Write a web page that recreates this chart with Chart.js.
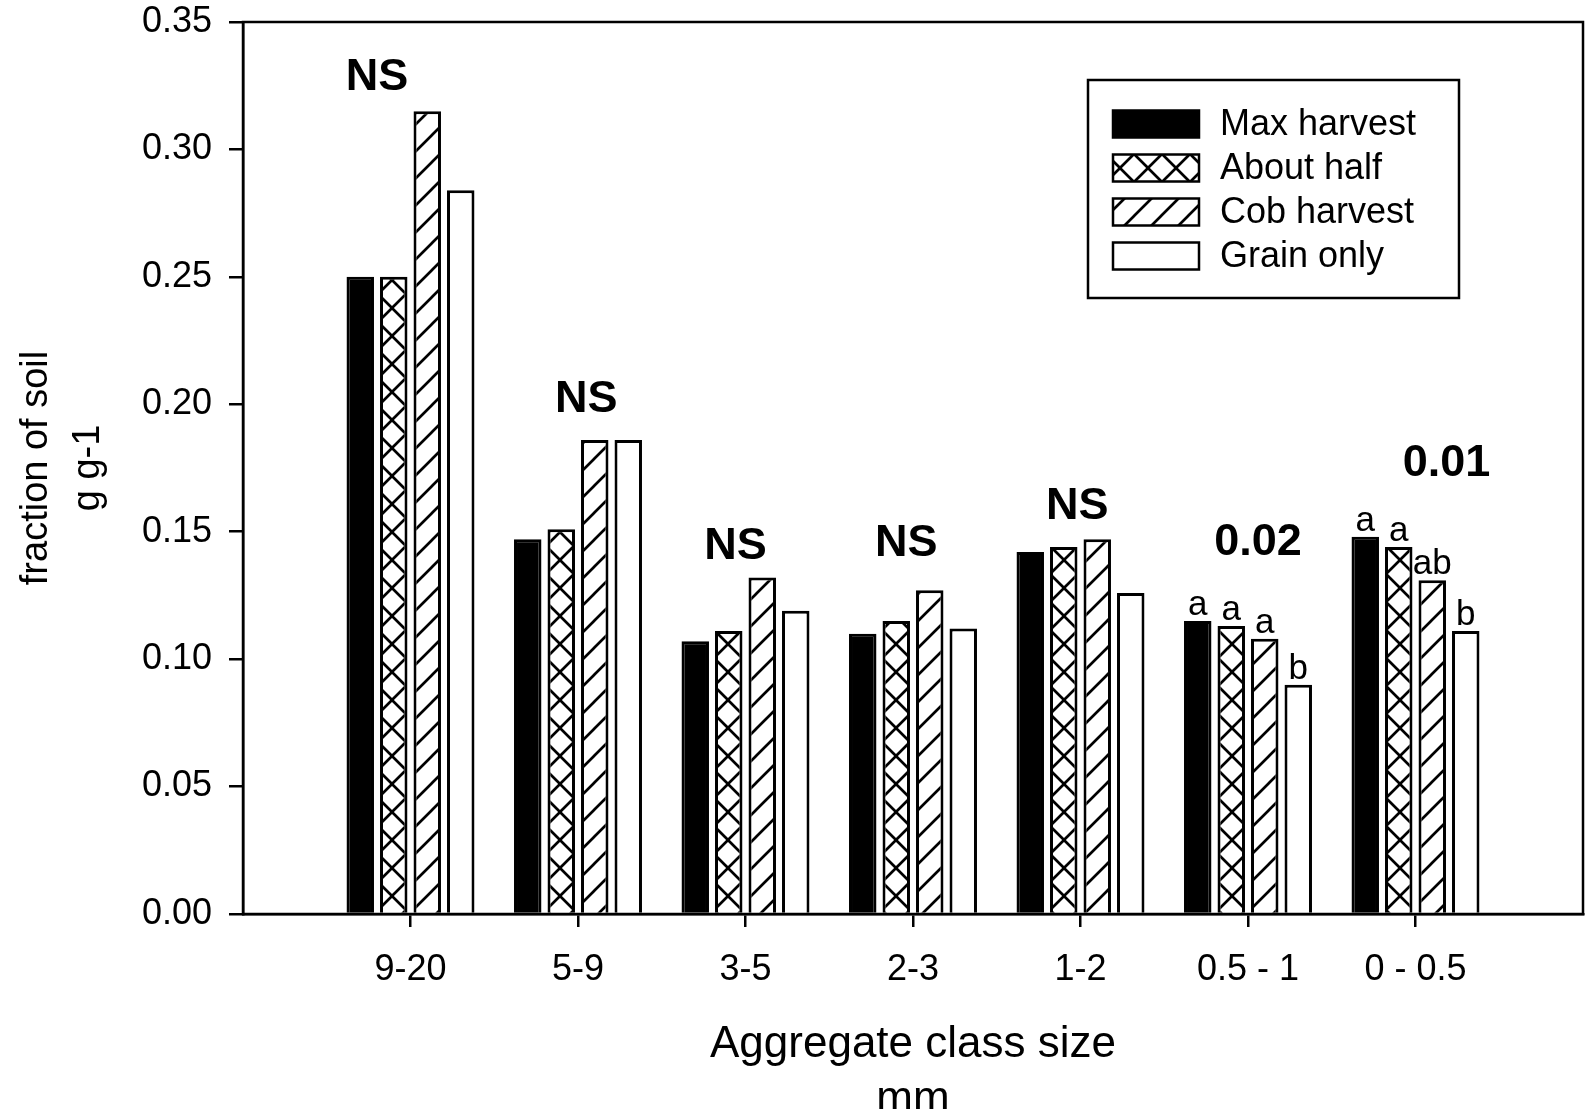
<!DOCTYPE html>
<html>
<head>
<meta charset="utf-8">
<title>Aggregate class size</title>
<script src="https://cdn.jsdelivr.net/npm/chart.js@4.4.1/dist/chart.umd.min.js"></script>
<style>
  body { margin: 0; background: #fff; }
  #wrap { width: 1585px; height: 1109px; }
</style>
</head>
<body>
<div id="wrap"><canvas id="aggChart"></canvas></div>
<script>

// aggregate size classes (mm)
var classes = ['9-20', '5-9', '3-5', '2-3', '1-2', '0.5 - 1', '0 - 0.5'];

// fraction of soil, g g-1, one list per residue treatment
var maxHarvest = [0.250, 0.147, 0.107, 0.110, 0.142, 0.115, 0.148];
var aboutHalf  = [0.250, 0.151, 0.111, 0.115, 0.144, 0.113, 0.144];
var cobHarvest = [0.315, 0.186, 0.132, 0.127, 0.147, 0.108, 0.131];
var grainOnly  = [0.284, 0.186, 0.119, 0.112, 0.126, 0.090, 0.111];

var yTicks = [0, 0.05, 0.10, 0.15, 0.20, 0.25, 0.30, 0.35];

// significance of the treatment effect in each class
var sigText = ['NS', 'NS', 'NS', 'NS', 'NS', '0.02', '0.01'];
var sigX = [0.80, 2.05, 2.94, 3.96, 4.98, 6.06, 7.185];
var sigY = [0.328, 0.202, 0.144, 0.1455, 0.160, 0.1456, 0.1766];

// mean separation letters ('' = none)
var lettersMax   = ['', '', '', '', '', 'a', 'a'];
var lettersHalf  = ['', '', '', '', '', 'a', 'a'];
var lettersCob   = ['', '', '', '', '', 'a', 'ab'];
var lettersGrain = ['', '', '', '', '', 'b', 'b'];

var FONT = '"Liberation Sans", Arial, sans-serif';


// hatch tile: "/" lines, plus "\" lines for the cross pattern
function hatch(kind, s) {
  var c = document.createElement('canvas');
  c.width = s;
  c.height = s;
  var g = c.getContext('2d');
  g.fillStyle = '#fff';
  g.fillRect(0, 0, s, s);
  g.strokeStyle = '#000';
  g.lineWidth = 2.7;
  g.beginPath();
  g.moveTo(-3, s + 3); g.lineTo(s + 3, -3);
  g.moveTo(-3, 3); g.lineTo(3, -3);
  g.moveTo(s - 3, s + 3); g.lineTo(s + 3, s - 3);
  if (kind == 'cross') {
    g.moveTo(-3, -3); g.lineTo(s + 3, s + 3);
    g.moveTo(s - 3, -3); g.lineTo(s + 3, 3);
    g.moveTo(-3, s - 3); g.lineTo(3, s + 3);
  }
  g.stroke();
  return g.createPattern(c, 'repeat');
}

function toPoints(vals) {
  var out = [];
  for (var i = 0; i < vals.length; i++) {
    out.push({x: i + 1, y: vals[i]});
  }
  return out;
}


// frame, significance labels, letters and the boxed legend
var extras = {
  id: 'extras',
  afterDraw: function (chart) {
    var ctx = chart.ctx;
    var a = chart.chartArea;
    var xs = chart.scales.x;
    var ys = chart.scales.y;

    ctx.save();
    ctx.strokeStyle = '#000';
    ctx.lineWidth = 2.5;
    ctx.strokeRect(a.left, a.top, a.right - a.left, a.bottom - a.top);

    ctx.fillStyle = '#000';
    ctx.textAlign = 'center';
    ctx.textBaseline = 'middle';
    ctx.font = 'bold 45px ' + FONT;
    for (var i = 0; i < sigText.length; i++) {
      ctx.fillText(sigText[i], xs.getPixelForValue(sigX[i]), ys.getPixelForValue(sigY[i]));
    }

    ctx.font = '35px ' + FONT;
    ctx.textBaseline = 'alphabetic';
    chart.data.datasets.forEach(function (ds, d) {
      var meta = chart.getDatasetMeta(d);
      meta.data.forEach(function (bar, k) {
        if (ds.letters[k]) {
          ctx.fillText(ds.letters[k], bar.x, bar.y - 6);
        }
      });
    });

    // legend
    var bx = a.right - 495;
    var by = a.top + 58;
    ctx.lineWidth = 2.5;
    ctx.strokeRect(bx, by, 371, 218);
    ctx.font = '36px ' + FONT;
    ctx.textAlign = 'left';
    ctx.textBaseline = 'middle';
    chart.data.datasets.forEach(function (ds, d) {
      var cy = by + 44 + d * 44;
      ctx.fillStyle = ds.backgroundColor;
      ctx.fillRect(bx + 25, cy - 13.5, 86, 27);
      ctx.strokeStyle = '#000';
      ctx.strokeRect(bx + 25, cy - 13.5, 86, 27);
      ctx.fillStyle = '#000';
      ctx.fillText(ds.label, bx + 132, cy + 1);
    });
    ctx.restore();
  }
};


function init() {
  Chart.defaults.font.family = FONT;
  Chart.defaults.color = '#000';

  var ctx = document.getElementById('aggChart').getContext('2d');
  var chart = new Chart(ctx, {
    type: 'bar',
    data: {
      datasets: [
        {label: 'Max harvest', data: toPoints(maxHarvest), letters: lettersMax, backgroundColor: '#000'},
        {label: 'About half', data: toPoints(aboutHalf), letters: lettersHalf, backgroundColor: hatch('cross', 28)},
        {label: 'Cob harvest', data: toPoints(cobHarvest), letters: lettersCob, backgroundColor: hatch('diag', 27)},
        {label: 'Grain only', data: toPoints(grainOnly), letters: lettersGrain, backgroundColor: '#fff'}
      ]
    },
    options: {
      responsive: true,
      maintainAspectRatio: false,
      animation: false,
      datasets: {
        bar: {borderColor: '#000', borderWidth: 3, categoryPercentage: 0.8, barPercentage: 0.82}
      },
      layout: {padding: {top: 22, right: 2, left: 0, bottom: 0}},
      plugins: {
        legend: {display: false},
        tooltip: {enabled: false}
      },
      scales: {
        x: {
          type: 'linear',
          offset: false,
          min: 0,
          max: 8,
          afterBuildTicks: function (s) {
            s.ticks = classes.map(function (c, i) { return {value: i + 1}; });
          },
          afterFit: function (s) {
            s.height = 195;
            s.paddingLeft = 0;
            s.paddingRight = 0;
          },
          ticks: {
            callback: function (v) { return classes[v - 1]; },
            font: {size: 36},
            color: '#000',
            padding: 21,
            maxRotation: 0,
            autoSkip: false
          },
          grid: {offset: false, drawOnChartArea: false, drawTicks: true, tickLength: 13, color: '#000', lineWidth: 2.5},
          border: {display: true, color: '#000', width: 2.5},
          title: {
            display: true,
            text: ['Aggregate class size', 'mm'],
            font: {size: 44, lineHeight: 1.25},
            color: '#000',
            padding: {top: 0, bottom: -18}
          }
        },
        y: {
          min: 0,
          max: 0.35,
          afterBuildTicks: function (s) {
            s.ticks = yTicks.map(function (v) { return {value: v}; });
          },
          afterFit: function (s) {
            s.width = 243;
            s.paddingTop = 0;
            s.paddingBottom = 0;
          },
          ticks: {
            callback: function (v) { return v.toFixed(2); },
            font: {size: 36},
            color: '#000',
            padding: 17
          },
          grid: {drawOnChartArea: false, drawTicks: true, tickLength: 14, color: '#000', lineWidth: 2.5},
          border: {display: true, color: '#000', width: 2.5},
          title: {
            display: true,
            text: ['fraction of soil', 'g g-1'],
            font: {size: 38, lineHeight: 1.38},
            color: '#000',
            padding: {top: 10, bottom: 0}
          }
        }
      }
    },
    plugins: [extras]
  });
}

window.addEventListener('load', init);
</script>
</body>
</html>
